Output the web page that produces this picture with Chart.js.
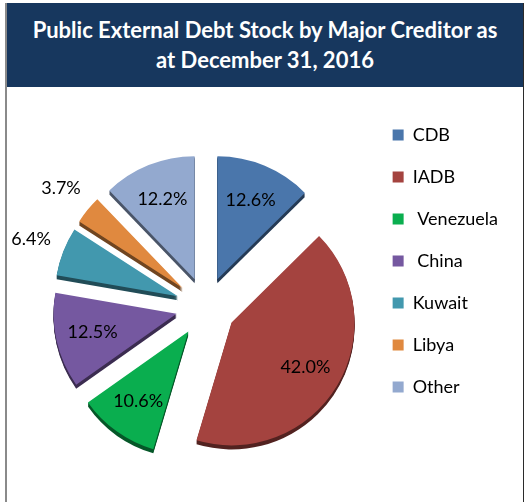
<!DOCTYPE html>
<html>
<head>
<meta charset="utf-8">
<script src="https://cdn.jsdelivr.net/npm/chart.js@4.4.0/dist/chart.umd.min.js"></script>
<style>
    html, body { margin: 0; padding: 0; background: #fff; overflow: hidden; }
    #moldura { position: absolute; left: 5px; top: 3px; width: 516px; height: 520px; border-left: 2px solid #8a8a8a; border-right: 1px solid #2b2b2b; }
    #titulo { height: 84px; background: #17375e; color: #fff; font: bold 22px Lato, sans-serif; text-align: center; line-height: 30px; padding-top: 12px; box-sizing: border-box; }
    #area { position: absolute; left: 7px; top: 88px; width: 516px; height: 414px; overflow: hidden; }
    #grafico { position: absolute; left: 0; top: 0; }
</style>
</head>
<body>
<div id="moldura">
    <div id="titulo">Public External Debt Stock by Major Creditor as<br>at December 31, 2016</div>
</div>
<div id="area"><canvas id="grafico" width="516" height="430"></canvas></div>

<script>
// Dados do gráfico
const credores = ['CDB', 'IADB', ' Venezuela', ' China', 'Kuwait', 'Libya', 'Other'];
const participacao = [12.6, 42.0, 10.6, 12.5, 6.4, 3.7, 12.2];

// Cores das fatias
const coresFatias = ['#4a76ab', '#a4433f', '#0aae4f', '#7558a0', '#4298ae', '#e0893f', '#93a9cf'];

const DESLOCAMENTO = 30; // "explosão" das fatias
const PROFUNDIDADE = 4;  // espessura do efeito 3D

function escurecer(hex, f) {
    const n = parseInt(hex.slice(1), 16);
    const r = Math.round(((n >> 16) & 255) * f);
    const g = Math.round(((n >> 8) & 255) * f);
    const b = Math.round((n & 255) * f);
    return `rgb(${r},${g},${b})`;
}

function deslocamentoDe(arco) {
    const meio = (arco.startAngle + arco.endAngle) / 2;
    return { meio, dx: Math.cos(meio) * DESLOCAMENTO, dy: Math.sin(meio) * DESLOCAMENTO };
}

// Plugin: desenha as fatias separadas com uma lateral escura (pizza 3D)
const pizza3d = {
    id: 'pizza3d',
    beforeDatasetDraw(chart, args) {
        const ctx = chart.ctx;
        const arcos = args.meta.data;

        // 1. laterais
        arcos.forEach((arco, i) => {
            const { dx, dy } = deslocamentoDe(arco);
            ctx.save();
            ctx.fillStyle = escurecer(coresFatias[i], 0.5);
            for (let k = 1; k <= PROFUNDIDADE; k++) {
                ctx.beginPath();
                ctx.moveTo(arco.x + dx, arco.y + dy + k);
                ctx.arc(arco.x + dx, arco.y + dy + k, arco.outerRadius, arco.startAngle, arco.endAngle);
                ctx.closePath();
                ctx.fill();
            }
            ctx.restore();
        });

        // 2. faces de cima
        arcos.forEach((arco) => {
            const { dx, dy } = deslocamentoDe(arco);
            ctx.save();
            ctx.translate(dx, dy);
            arco.draw(ctx);
            ctx.restore();
        });
        return false;
    },
    afterDatasetsDraw(chart) {
        const ctx = chart.ctx;
        const arcos = chart.getDatasetMeta(0).data;
        ctx.save();
        ctx.fillStyle = '#000';
        ctx.font = '18px Lato';
        ctx.textAlign = 'center';
        ctx.textBaseline = 'middle';
        arcos.forEach((arco, i) => {
            const { meio, dx, dy } = deslocamentoDe(arco);
            const valor = participacao[i];
            // fatias pequenas: rótulo fora
            const raio = arco.outerRadius * (valor < 7 ? 1.28 : 0.7);
            const x = arco.x + dx + Math.cos(meio) * raio;
            const y = arco.y + dy + Math.sin(meio) * raio;
            ctx.fillText(valor.toFixed(1) + '%', x, y);
        });
        ctx.restore();
    }
};

Chart.defaults.font.family = 'Lato';

const ctxPizza = document.getElementById('grafico').getContext('2d');
window.chartPizza = new Chart(ctxPizza, {
    type: 'pie',
    data: {
        labels: credores,
        datasets: [{
            data: participacao,
            backgroundColor: coresFatias,
            borderWidth: 0
        }]
    },
    options: {
        responsive: false,
        animation: false,
        radius: 123,
        layout: { padding: { left: 36, right: 15, top: 14, bottom: 6 } },
        plugins: {
            legend: {
                position: 'right',
                align: 'start',
                labels: {
                    boxWidth: 11, boxHeight: 11, padding: 24,
                    color: '#000',
                    font: { family: 'Lato', size: 18 }
                }
            },
            tooltip: { enabled: false }
        }
    },
    plugins: [pizza3d]
});
</script>
</body>
</html>
